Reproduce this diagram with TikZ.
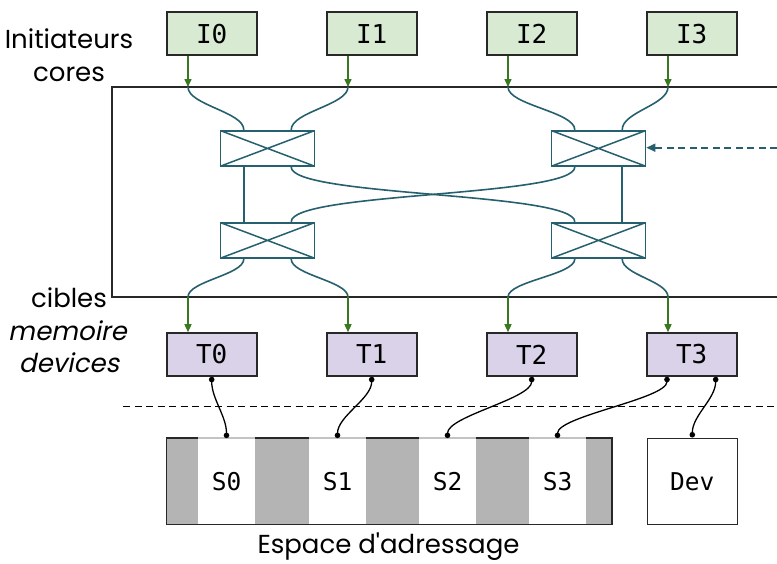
\documentclass[tikz,border=0pt]{standalone}
\usepackage{fontspec}
\setmainfont{Poppins}[Ligatures=TeXOff]
\newfontfamily\slantfont{Poppins}[Ligatures=TeXOff,FakeSlant=0.2]
\newfontfamily\monofont{DejaVu Sans Mono}
\usetikzlibrary{arrows.meta,calc}

\definecolor{swteal}{RGB}{38,96,110}
\definecolor{linkgreen}{RGB}{58,120,32}
\definecolor{initfill}{RGB}{217,234,211}
\definecolor{tgtfill}{RGB}{217,210,233}
\definecolor{boxline}{RGB}{40,40,40}
\definecolor{bargray}{RGB}{180,180,180}
\definecolor{edgegray}{RGB}{195,195,195}

\begin{document}
\begin{tikzpicture}[x=1pt,y=-1pt,
  unitbox/.style={draw=boxline, line width=1.6pt, minimum width=90pt,
    minimum height=43pt, inner sep=0pt, font=\monofont\fontsize{26}{26}\selectfont},
  initbox/.style={unitbox, fill=initfill},
  tgtbox/.style={unitbox, fill=tgtfill},
  xbar/.style={draw=swteal, line width=1.7pt, minimum width=94pt,
    minimum height=35.5pt, inner sep=0pt,
    path picture={\draw[swteal, line width=1.5pt]
      (path picture bounding box.north west) -- (path picture bounding box.south east)
      (path picture bounding box.south west) -- (path picture bounding box.north east);}},
  wire/.style={draw=swteal, line width=1.6pt},
  feed/.style={draw=linkgreen, line width=1.5pt, -{Triangle[length=8pt,width=7pt]}},
  maplink/.style={draw=black, line width=1.3pt, {Circle[length=5.5pt]}-{Circle[length=5.5pt]}},
  seg/.style={fill=white, minimum width=57pt, minimum height=86pt, inner sep=0pt,
    font=\monofont\fontsize{24.5}{24.5}\selectfont},
  sidelabel/.style={font=\fontsize{26}{26}\selectfont, anchor=base},
  sidelabelit/.style={font=\slantfont\fontsize{26}{26}\selectfont, anchor=base},
]
\useasboundingbox (0,0) rectangle (777,563);

% initiators and targets
\foreach \k/\x in {0/211.7,1/371.7,2/531.7,3/691.7} {
  \node[initbox] (i\k) at (\x,33.7) {I\k};
  \node[tgtbox] (t\k) at (\x,354.5) {T\k};
}

% interconnect frame (open on the right)
\coordinate (ftop) at (112,87);
\coordinate (fbot) at (112,297);
\draw[boxline, line width=1.5pt] (777,87) -- (ftop) -- (fbot) -- (777,297);

% crossbar switches
\node[xbar] (sw0) at (267.5,148.4) {};
\node[xbar] (sw1) at (598.5,148.4) {};
\node[xbar] (sw2) at (267.5,240.4) {};
\node[xbar] (sw3) at (598.5,240.4) {};
\foreach \s in {0,1,2,3} {
  \coordinate (sw\s nl) at ($(sw\s.north)+(-23.7,0)$);
  \coordinate (sw\s nr) at ($(sw\s.north)+(23.7,0)$);
  \coordinate (sw\s sl) at ($(sw\s.south)+(-23.7,0)$);
  \coordinate (sw\s sr) at ($(sw\s.south)+(23.7,0)$);
}

% ports on the frame
\foreach \k in {0,1,2,3} {
  \coordinate (ip\k) at ($(i\k.south)+(-23.7,0)$);
  \coordinate (fa\k) at (ip\k |- ftop);
  \coordinate (fb\k) at (ip\k |- fbot);
  \coordinate (tp\k) at (ip\k |- t\k.north);
  \draw[feed] (ip\k) -- (fa\k);
  \draw[feed] (fb\k) -- (tp\k);
}

% wiring inside the interconnect
\draw[wire] (fa0) .. controls +(0,18) and +(0,-18) .. (sw0nl);
\draw[wire] (fa1) .. controls +(0,18) and +(0,-18) .. (sw0nr);
\draw[wire] (fa2) .. controls +(0,18) and +(0,-18) .. (sw1nl);
\draw[wire] (fa3) .. controls +(0,18) and +(0,-18) .. (sw1nr);
\draw[wire] (sw0sl) -- (sw2nl);
\draw[wire] (sw1sr) -- (sw3nr);
\draw[wire] (sw0sr) .. controls +(0,30) and +(0,-30) .. (sw3nl);
\draw[wire] (sw1sl) .. controls +(0,30) and +(0,-30) .. (sw2nr);
\draw[wire] (sw2sl) .. controls +(0,16) and +(0,-16) .. (fb0);
\draw[wire] (sw2sr) .. controls +(0,16) and +(0,-16) .. (fb1);
\draw[wire] (sw3sl) .. controls +(0,16) and +(0,-16) .. (fb2);
\draw[wire] (sw3sr) .. controls +(0,16) and +(0,-16) .. (fb3);

% external control input
\coordinate (ctl) at (777,147.7);
\draw[swteal, line width=1.6pt, dash pattern=on 7pt off 4.5pt,
  -{Triangle[length=9pt,width=8pt]}] (ctl) -- (sw1.east |- ctl);

% separator
\coordinate (sepl) at (123,406.7);
\coordinate (sepr) at (777,406.7);
\draw[black, line width=1.3pt, dash pattern=on 7pt off 4.5pt] (sepl) -- (sepr);

% address space
\node[fill=bargray, minimum width=445pt, minimum height=86pt, inner sep=0pt]
  (bar) at (389.2,481.3) {};
\foreach \k/\x in {0/226.5,1/337.5,2/447.5,3/557.5}
  \node[seg] (s\k) at (\x,481.3) {S\k};
\draw[boxline, line width=1.6pt] (bar.south west) rectangle (bar.north east);
\foreach \k in {0,1,2,3}
  \draw[edgegray, line width=1.6pt] (s\k.north west) -- (s\k.north east);
\node[draw=boxline, fill=white, line width=1.6pt, minimum width=90pt,
  minimum height=86pt, inner sep=0pt, font=\monofont\fontsize{24.5}{24.5}\selectfont]
  (dev) at (692.3,481.3) {Dev};

% mapping of targets onto the address space
\coordinate (t3a) at ($(t3.south)+(-24.7,0)$);
\coordinate (t3b) at ($(t3.south)+(24,0)$);
\draw[maplink] (t0.south) .. controls +(0,22) and +(0,-22) .. (s0.north);
\draw[maplink] (t1.south) .. controls +(0,22) and +(0,-22) .. (s1.north);
\draw[maplink] (t2.south) .. controls +(0,22) and +(0,-22) .. (s2.north);
\draw[maplink] (t3a) .. controls +(0,22) and +(0,-22) .. (s3.north);
\draw[maplink] (t3b) .. controls +(0,22) and +(0,-22) .. (dev.north);

% labels
\node[sidelabel] (lbinit) at (69,48) {Initiateurs};
\node[sidelabel] (lbcores) at (69,81) {cores};
\node[sidelabel] (lbcib) at (69,307.5) {cibles};
\node[sidelabelit] (lbmem) at (67.5,340.5) {memoire};
\node[sidelabelit] (lbdev) at (69,372) {devices};
\node[sidelabel] (lbaddr) at (388.5,553) {Espace d'adressage};
\end{tikzpicture}
\end{document}
